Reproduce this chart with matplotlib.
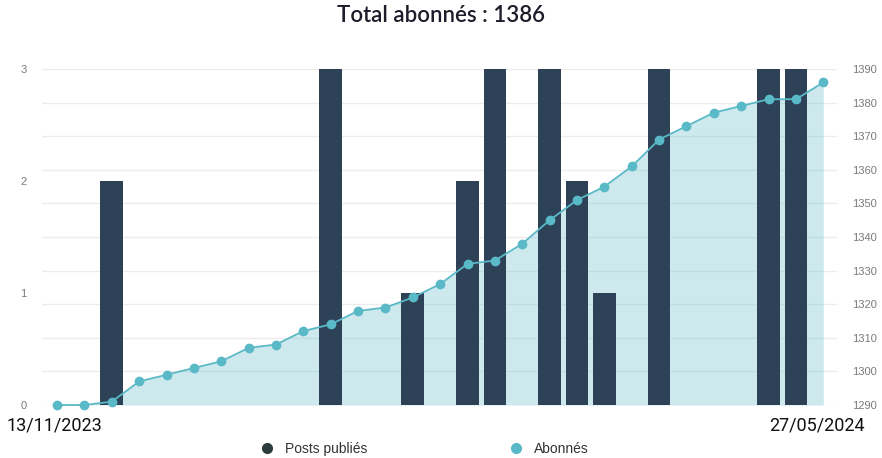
import numpy as np
import matplotlib
matplotlib.use('Agg')
import matplotlib.pyplot as plt
from matplotlib.lines import Line2D

# weekly points, 13/11/2023 -> 27/05/2024
weeks = np.arange(29)
abonnes = [1290, 1290, 1291, 1297, 1299, 1301, 1303, 1307, 1308, 1312,
           1314, 1318, 1319, 1322, 1326, 1332, 1333, 1338, 1345, 1351,
           1355, 1361, 1369, 1373, 1377, 1379, 1381, 1381, 1386]
posts = [0, 0, 2, 0, 0, 0, 0, 0, 0, 0,
         3, 0, 0, 1, 0, 2, 3, 0, 3, 2,
         1, 0, 3, 0, 0, 0, 3, 3, 0]
date_debut = '13/11/2023'
date_fin = '27/05/2024'
titre = 'Total abonnés : 1386'

bar_color = '#2d4256'
line_color = '#5ab9c7'
tick_color = '#7a7a7a'

plt.rcParams['font.family'] = ['Liberation Sans', 'DejaVu Sans']

fig = plt.figure(figsize=(8.82, 4.58), dpi=100)
ax = fig.add_axes([42 / 882, 53 / 458, 795 / 882, 336 / 458])
ax2 = ax.twinx()

# ax2 (subscribers scale) sits below, holds grid and area
ax.set_zorder(ax2.get_zorder() + 1)
ax.patch.set_visible(False)

ax2.fill_between(weeks, abonnes, 1290, color=line_color, alpha=0.3, lw=0, zorder=2)
ax2.set_ylim(1290, 1390)
ax2.set_yticks(np.arange(1290, 1391, 10))
ax2.grid(axis='y', color='#ececec', lw=1, zorder=0)

ax.bar(weeks, posts, width=0.83, color=bar_color, zorder=3)
ax.plot(weeks, abonnes, color=line_color, lw=1.3, marker='o', ms=6,
        transform=ax2.transData, zorder=4, clip_on=False)
ax.set_ylim(0, 3)
ax.set_yticks([0, 1, 2, 3])
ax.set_xlim(-0.55, 28.5)
ax.set_xticks([])

for a in (ax, ax2):
    for s in a.spines.values():
        s.set_visible(False)
    a.tick_params(axis='y', length=0, labelsize=8, colors=tick_color, pad=11)

fig.text(0.5, 1 - 15 / 458, titre, ha='center', va='center', fontsize=16,
         family=['Lato', 'DejaVu Sans'], weight='semibold', color='#1c1c2a')
fig.text(7 / 882, 1 - 425 / 458, date_debut, ha='left', va='center', fontsize=13,
         family=['Roboto', 'DejaVu Sans'], color='#111111')
fig.text(865 / 882, 1 - 425 / 458, date_fin, ha='right', va='center', fontsize=13,
         family=['Roboto', 'DejaVu Sans'], color='#111111')

handles = [Line2D([], [], ls='none', marker='o', ms=7, color='#2c3b3b'),
           Line2D([], [], ls='none', marker='o', ms=7, color=line_color)]
fig.legend(handles, ['Posts publiés', 'Abonnés'], loc='center',
           bbox_to_anchor=(424 / 882, 1 - 449 / 458), ncol=2, frameon=False,
           fontsize=10, handlelength=1, handletextpad=0.8, columnspacing=10.2,
           labelcolor='#333333')

fig.savefig('out.png', dpi=100)
